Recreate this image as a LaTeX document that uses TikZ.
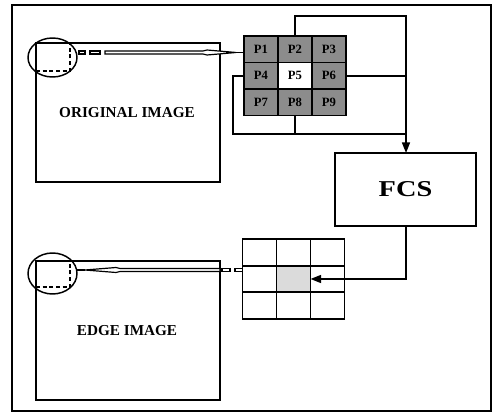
\documentclass[tikz,border=0pt]{standalone}
\usepackage{fontspec}
\setmainfont{Liberation Serif}
\usetikzlibrary{arrows.meta}
\begin{document}
\begin{tikzpicture}[x=0.75pt,y=-0.75pt,
  imgbox/.style={draw,line width=1.2pt,minimum width=138pt,minimum height=104.25pt,inner sep=0pt,outer sep=0pt},
  pcell/.style={draw,line width=1.4pt,fill=black!45,minimum width=25.5pt,minimum height=19.9pt,inner sep=0pt,outer sep=0pt,font=\fontsize{9.5}{10}\selectfont\bfseries},
  ecell/.style={draw,line width=1.4pt,minimum width=25.5pt,minimum height=19.9pt,inner sep=0pt,outer sep=0pt},
  wire/.style={line width=1.2pt},
  tip/.style={-{Triangle[length=8pt,width=6pt]}},
  hollow/.style={draw,line width=0.9pt,fill=white},
  lbl/.style={font=\fontsize{11.4}{13}\selectfont\bfseries}
]
\useasboundingbox (0,0) rectangle (497,413);
\node[draw,line width=1.5pt,minimum width=359.25pt,minimum height=304.5pt,inner sep=0pt] (frame) at (251.5,208) {};

% images
\node[imgbox] (orig) at (128,112.5) {};
\node[lbl] (origtxt) at (127,113) {ORIGINAL IMAGE};
\node[imgbox] (edge) at (128,330.5) {};
\node[lbl] (edgetxt) at (127,331) {EDGE IMAGE};

% magnifier ellipses and dashed windows
\draw[line width=1.3pt,dash pattern=on 3pt off 2pt] (36,71) -- (70,71) -- (70,43);
\draw[line width=1.1pt] (52.5,57.5) ellipse [x radius=24.5, y radius=19.5];
\draw[line width=1.3pt,dash pattern=on 3pt off 2pt] (36,287) -- (70,287) -- (70,261);
\draw[line width=1.1pt] (52.5,273.5) ellipse [x radius=24.5, y radius=20.5];

% FCS
\node[draw,line width=1.2pt,minimum width=105.75pt,minimum height=54.75pt,inner sep=0pt,outer sep=0pt] (fcs) at (405.5,189.5) {\scalebox{1.25}[1]{\fontsize{17}{19}\selectfont\bfseries FCS}};

% top grid
\node[pcell] (g1) at (261,49.25) {P1};
\node[pcell] (g2) at (295,49.25) {P2};
\node[pcell] (g3) at (329,49.25) {P3};
\node[pcell] (g4) at (261,75.75) {P4};
\node[pcell,fill=white] (g5) at (295,75.75) {P5};
\node[pcell] (g6) at (329,75.75) {P6};
\node[pcell] (g7) at (261,102.25) {P7};
\node[pcell] (g8) at (295,102.25) {P8};
\node[pcell] (g9) at (329,102.25) {P9};

% bottom grid
\node[ecell] (h1) at (259.5,252.5) {};
\node[ecell] (h2) at (293.5,252.5) {};
\node[ecell] (h3) at (327.5,252.5) {};
\node[ecell] (h4) at (259.5,279) {};
\node[ecell,fill=black!14] (h5) at (293.5,279) {};
\node[ecell] (h6) at (327.5,279) {};
\node[ecell] (h7) at (259.5,305.5) {};
\node[ecell] (h8) at (293.5,305.5) {};
\node[ecell] (h9) at (327.5,305.5) {};

% routing to FCS
\coordinate (ta) at (295,16);
\coordinate (tb) at (406,16);
\coordinate (jn) at (406,134);
\coordinate (la) at (233,75.75);
\coordinate (lb) at (233,134);
\coordinate (b8) at (295,134);
\coordinate (r6) at (406,75.75);
\draw[wire,tip] (g2.north) -- (ta) -- (tb) -- (fcs.north -| tb);
\draw[wire] (g6.east) -- (r6);
\draw[wire] (g4.west) -- (la) -- (lb) -- (jn);
\draw[wire] (g8.south) -- (b8);
\coordinate (fb) at (406,279);
\draw[wire,tip] (fcs.south -| fb) -- (fb) -- (h5.east);

% hollow arrow: original image -> top grid
\draw[hollow] (79,51) rectangle (85,54);
\draw[hollow] (90,51) rectangle (100,54);
\coordinate (t1) at (236,52.5);
\draw[hollow] (105,51) -- (203,51) -- (207,50) -- (t1) -- (207,55) -- (203,54) -- (105,54) -- cycle;
\draw[line width=1pt] (t1) -- (g1.west |- t1);

% hollow arrow: bottom grid -> edge image
\coordinate (t2) at (85,270);
\draw[hollow] (220,268.5) -- (120,268.5) -- (116,267.5) -- (t2) -- (116,272.5) -- (120,271.5) -- (220,271.5) -- cycle;
\draw[line width=1pt] (t2) -- (77,270);
\draw[hollow] (222,268.5) rectangle (230,271.5);
\draw[hollow] (235,268.5) rectangle (h4.west |- 0,271.5);
\end{tikzpicture}
\end{document}
